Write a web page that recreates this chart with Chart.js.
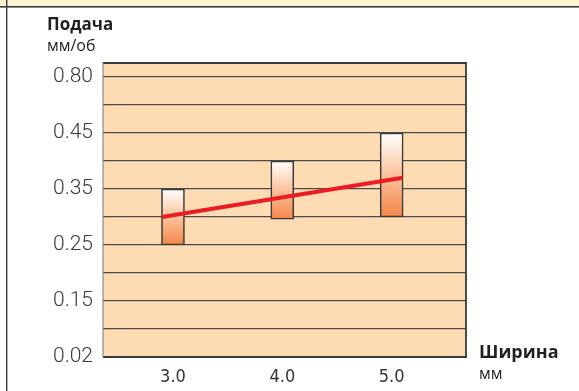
<!DOCTYPE html>
<html>
<head>
<meta charset="utf-8">
<script src="https://cdn.jsdelivr.net/npm/chart.js@4/dist/chart.umd.min.js"></script>
<style>
  html, body { margin: 0; padding: 0; background: #fff; }
  #wrap { width: 579px; height: 391px; position: relative; }
</style>
</head>
<body>
<div id="wrap"><canvas id="c" width="579" height="391"></canvas></div>
<script>
// Cutting width (mm) for each recommended feed range
const widths = [3.0, 4.0, 5.0];
// Feed range per width, mm/rev
const feedMin = [0.25, 0.296, 0.30];
const feedMax = [0.35, 0.40, 0.45];
// Average feed trend line (ends at the outer bar edges)
const trendX = [2.9, 5.1];
const trendY = [0.30, 0.37];
// Labelled feed values on the vertical axis (top to bottom)
const yTicks = [0.80, 0.45, 0.35, 0.25, 0.15, 0.02];
const xTickLabels = ['3.0', '4.0', '5.0'];

// The feed axis is broken: each pair of neighbouring labels spans two grid rows.
function toPos(v) {
  for (let i = 0; i < yTicks.length - 1; i++) {
    const a = yTicks[i], b = yTicks[i + 1];
    if (v <= a && v >= b) return 2 * i + 2 * (a - v) / (a - b);
  }
  return v > yTicks[0] ? 0 : 2 * (yTicks.length - 1);
}

const rows = 2 * (yTicks.length - 1);

function barGradient(ctx) {
  const chart = ctx.chart;
  const raw = ctx.raw;
  if (!chart.chartArea || !raw || !chart.scales.y) return '#f8b484';
  const y = chart.scales.y;
  const top = y.getPixelForValue(Math.min(raw.y[0], raw.y[1]));
  const bot = y.getPixelForValue(Math.max(raw.y[0], raw.y[1]));
  if (!isFinite(top) || !isFinite(bot) || top === bot) return '#f8b484';
  const g = chart.ctx.createLinearGradient(0, top, 0, bot);
  g.addColorStop(0, '#ffffff');
  g.addColorStop(0.45, '#fbc8a4');
  g.addColorStop(1, '#f5864a');
  return g;
}

const framePlugin = {
  id: 'frame',
  beforeDraw(chart) {
    const { ctx, chartArea: a } = chart;
    ctx.save();
    ctx.fillStyle = '#ffffff';
    ctx.fillRect(0, 0, chart.width, chart.height);
    // header band
    ctx.fillStyle = '#fdf5d2';
    ctx.fillRect(0, 0, chart.width, 6);
    ctx.fillStyle = '#3a3a3a';
    ctx.fillRect(0, 6, chart.width, 1.6);
    // left page rule
    ctx.fillRect(6, 0, 1.4, chart.height);
    // plot background
    ctx.fillStyle = '#fddcb4';
    ctx.fillRect(a.left, a.top, a.right - a.left, a.bottom - a.top);
    ctx.restore();
  },
  afterDatasetsDraw(chart) {
    const { ctx, chartArea: a } = chart;
    ctx.save();
    ctx.strokeStyle = '#3a3a3a';
    ctx.lineWidth = 1.8;
    ctx.beginPath();
    ctx.moveTo(a.left, a.top);
    ctx.lineTo(a.right, a.top);
    ctx.lineTo(a.right, a.bottom);
    ctx.lineTo(a.left, a.bottom);
    ctx.stroke();
    ctx.strokeStyle = '#8a8a8a';
    ctx.lineWidth = 1.2;
    ctx.beginPath();
    ctx.moveTo(a.left, a.top);
    ctx.lineTo(a.left, a.bottom);
    ctx.stroke();
    // axis titles
    ctx.fillStyle = '#231f20';
    ctx.textBaseline = 'alphabetic';
    ctx.textAlign = 'left';
    ctx.font = 'bold 17px "Open Sans"';
    ctx.fillText('Подача', 47, 30);
    ctx.font = 'bold 18px "Open Sans"';
    ctx.fillText('Ширина', 479, 358);
    ctx.font = '16px "Open Sans"';
    ctx.fillText('мм/об', 47, 50.5);
    ctx.fillText('мм', 479, 379);
    ctx.restore();
  }
};

new Chart(document.getElementById('c'), {
  data: {
    datasets: [
      {
        type: 'line',
        order: 0,
        data: trendX.map((x, i) => ({ x: x, y: toPos(trendY[i]) })),
        borderColor: '#ec1c24',
        borderWidth: 4,
        borderCapStyle: 'butt',
        pointRadius: 0,
        fill: false
      },
      {
        type: 'bar',
        order: 1,
        data: widths.map((w, i) => ({ x: w, y: [toPos(feedMin[i]), toPos(feedMax[i])] })),
        backgroundColor: barGradient,
        borderColor: '#3a3a3a',
        borderWidth: 1.6,
        borderSkipped: false,
        barThickness: 23
      }
    ]
  },
  options: {
    responsive: false,
    animation: false,
    events: [],
    layout: { padding: { top: 63, right: 113, left: 0, bottom: 0 } },
    plugins: { legend: { display: false }, tooltip: { enabled: false } },
    scales: {
      x: {
        type: 'linear',
        offset: false,
        min: 2.36,
        max: 5.68,
        afterBuildTicks(s) { s.ticks = widths.map(v => ({ value: v })); },
        afterFit(s) { s.height = 34; },
        grid: { display: false, drawTicks: false, offset: false },
        border: { display: false },
        ticks: {
          padding: 10,
          color: '#333',
          font: { family: '"Liberation Sans Narrow", "DejaVu Sans Condensed", "Roboto"', size: 18 },
          callback: (v) => xTickLabels[widths.indexOf(v)] ?? ''
        }
      },
      y: {
        type: 'linear',
        reverse: true,
        min: -0.5,
        max: rows,
        afterBuildTicks(s) {
          const t = [];
          for (let i = 0; i <= rows; i++) t.push({ value: i });
          s.ticks = t;
        },
        afterFit(s) { s.width = 103; },
        grid: { color: '#4a4a4a', lineWidth: 1.3, drawTicks: false },
        border: { display: false },
        ticks: {
          padding: 10,
          color: '#3a3a3a',
          font: { family: 'Roboto', size: 21, weight: 300 },
          callback: (v) => (v % 2 === 0 ? yTicks[v / 2].toFixed(2) : '')
        }
      }
    }
  },
  plugins: [framePlugin]
});
</script>
</body>
</html>
